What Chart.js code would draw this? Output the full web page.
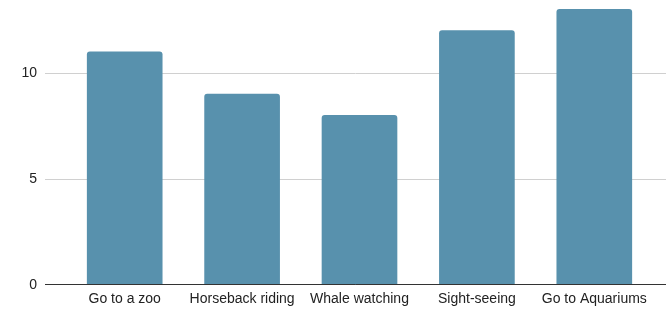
<!DOCTYPE html>
<html>
<head>
<meta charset="utf-8">
<script src="https://cdn.jsdelivr.net/npm/chart.js@4"></script>
<style>
html,body{margin:0;padding:0;background:#fff;overflow:hidden;}
canvas{display:block;}
</style>
</head>
<body>
<canvas id="chart" width="666" height="310"></canvas>
<script>
const categories = ["Go to a zoo","Horseback riding","Whale watching","Sight-seeing","Go to Aquariums"];
const values = [11,9,8,12,13];
const yTicks = [0,5,10];

// horizontal lines run past the category area, like the original
const gridLines = {
id:"gridLines",
beforeDatasetsDraw(chart){
const ctx = chart.ctx;
const y = chart.scales.y;
ctx.save();
ctx.lineWidth = 1;
ctx.strokeStyle = "#d0d0d0";
y.ticks.forEach(t=>{
if(t.value===0) return;
const py = Math.round(y.getPixelForValue(t.value))+0.5;
ctx.beginPath();
ctx.moveTo(45,py);
ctx.lineTo(chart.width,py);
ctx.stroke();
});
ctx.restore();
},
afterDatasetsDraw(chart){
const ctx = chart.ctx;
const y = chart.scales.y;
const py = Math.round(y.getPixelForValue(0))-0.5;
ctx.save();
ctx.lineWidth = 1;
ctx.strokeStyle = "#333";
ctx.beginPath();
ctx.moveTo(45,py);
ctx.lineTo(chart.width,py);
ctx.stroke();
ctx.restore();
}
};

new Chart(document.getElementById("chart"),{
type:"bar",
data:{
labels:categories,
datasets:[{
data:values,
backgroundColor:"#5891ad",
borderRadius:{topLeft:3,topRight:3,bottomLeft:0,bottomRight:0},
borderSkipped:"bottom",
barThickness:75
}]
},
options:{
responsive:false,
animation:false,
layout:{autoPadding:false,padding:{left:0,right:13,top:0,bottom:0}},
plugins:{legend:{display:false},tooltip:{enabled:false}},
scales:{
x:{
grid:{display:false,drawTicks:false},
border:{display:false},
ticks:{color:"#222",font:{family:"Liberation Sans, Arial",size:14},maxRotation:0,autoSkip:false,padding:6},
afterFit(s){s.height=25;}
},
y:{
min:0,
max:13.44,
grid:{display:false,drawTicks:false},
border:{display:false},
afterBuildTicks(s){s.ticks = yTicks.map(v=>({value:v}));},
ticks:{color:"#222",font:{family:"Liberation Sans, Arial",size:14},padding:29},
afterFit(s){s.width=66;s.paddingTop=0;s.paddingBottom=0;}
}
}
},
plugins:[gridLines]
});
</script>
</body>
</html>
